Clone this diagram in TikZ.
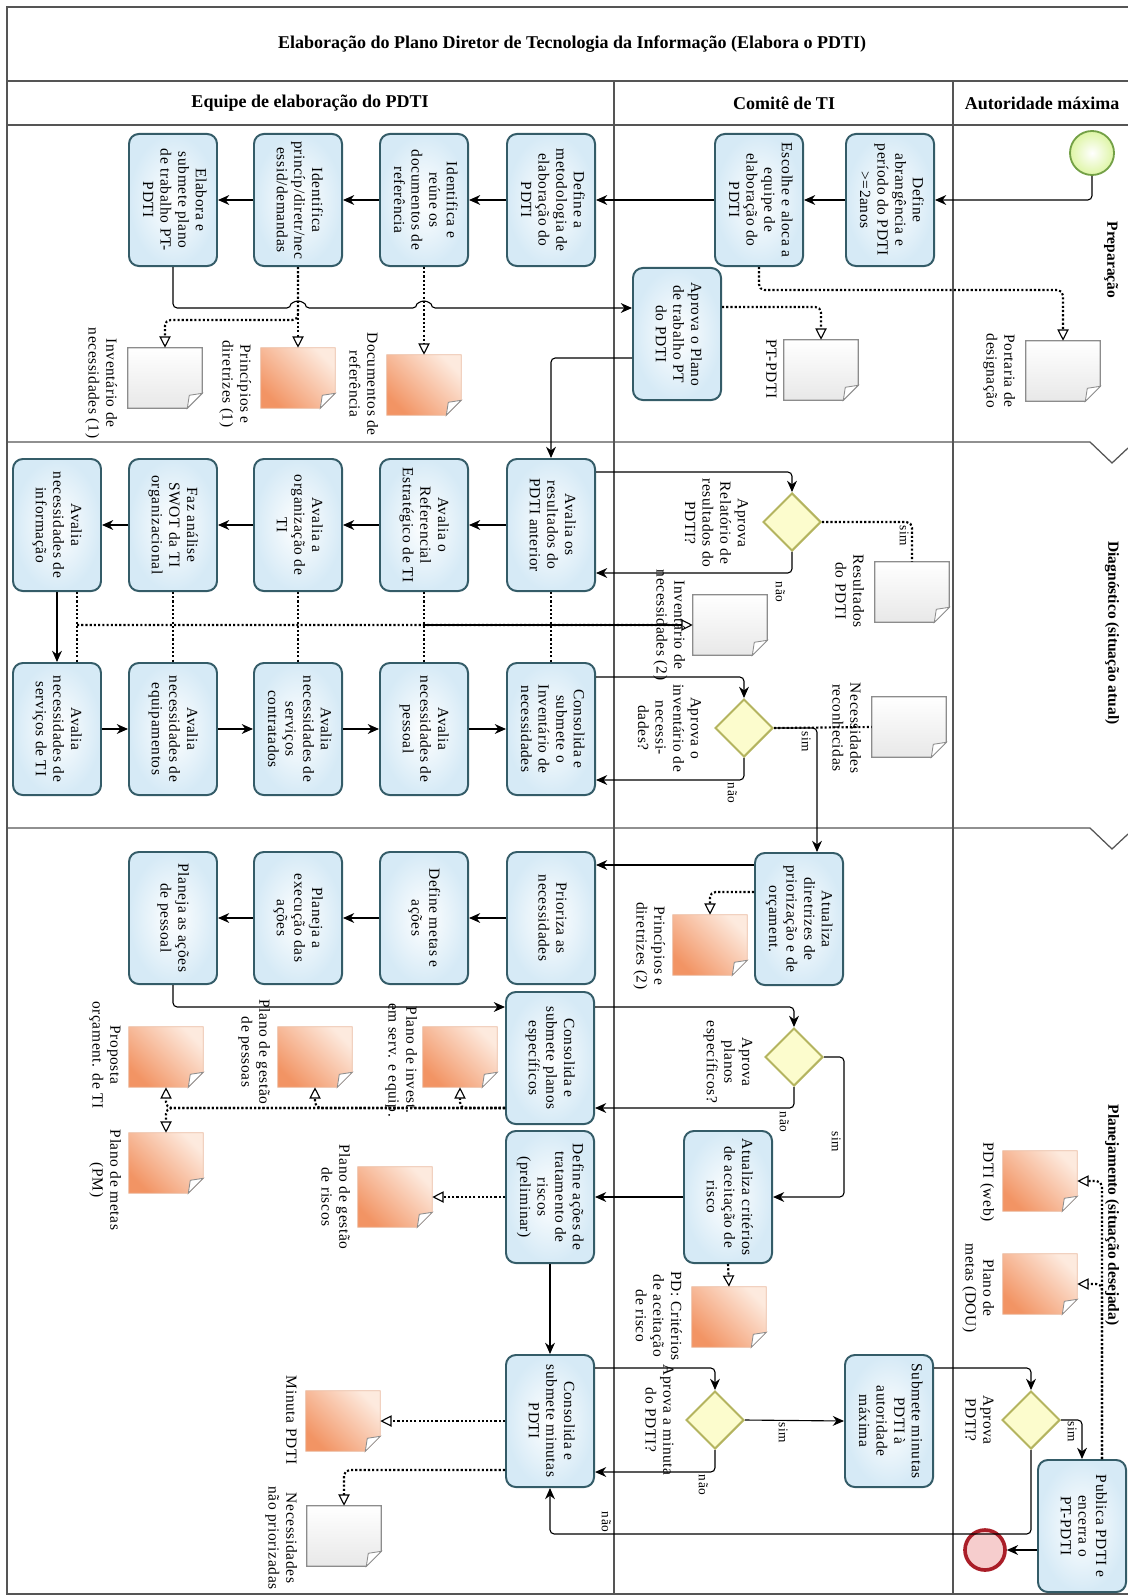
\documentclass[tikz,border=0pt]{standalone}
\usepackage{fontspec}
\setmainfont{Liberation Serif}
\newfontfamily\spacedfont[LetterSpace=4]{Liberation Serif}
\usepackage{graphicx}
\usetikzlibrary{arrows.meta, shapes.geometric}

\definecolor{taskedge}{RGB}{52,92,104}
\definecolor{taskfill}{RGB}{214,234,246}
\definecolor{gwedge}{RGB}{180,180,95}
\definecolor{gwfill}{RGB}{252,252,205}
\definecolor{docedge}{RGB}{140,140,140}
\definecolor{docgrayc}{RGB}{232,232,232}
\definecolor{docdark}{RGB}{242,148,100}
\definecolor{doclight}{RGB}{253,234,222}
\definecolor{docline}{RGB}{235,190,165}
\definecolor{laneline}{RGB}{85,85,85}
\definecolor{startedge}{RGB}{115,160,70}
\definecolor{startfill}{RGB}{222,245,165}
\definecolor{endedge}{RGB}{170,30,40}
\definecolor{endfill}{RGB}{246,205,205}

% vertical text, read from top to bottom
\newcommand\vt[1]{\rotatebox{-90}{\begin{tabular}{@{}c@{}}#1\end{tabular}}}

% data object with the folded corner
\newcommand\docnode[3]{%
	\node[doc] (#1) at (#2) {};
	\path[#3] (#1.north west) -- (#1.north east) -- ([shift={(0,-15)}]#1.south east)
		-- ([shift={(-15,0)}]#1.south east) -- (#1.south west) -- cycle;
	\path[fold] ([shift={(0,-15)}]#1.south east) -- ([shift={(-13,-13)}]#1.south east)
		-- ([shift={(-15,0)}]#1.south east) -- cycle;
}

\begin{document}
\begin{tikzpicture}[x=0.025cm, y=-0.025cm,
	lane/.style={draw=laneline, line width=0.9pt},
	task/.style={draw=taskedge, line width=1.4pt, rounded corners=7pt, inner color=white, outer color=taskfill, minimum width=2.2cm, minimum height=3.3cm, inner sep=0pt, font=\spacedfont\fontsize{11}{12.5}\selectfont},
	gw/.style={diamond, aspect=1, draw=gwedge, line width=1.4pt, fill=gwfill, minimum size=1.45cm, inner sep=0pt},
	startev/.style={circle, draw=startedge, line width=1.3pt, inner color=white, outer color=startfill, minimum size=1.1cm},
	endev/.style={circle, draw=endedge, line width=2.6pt, fill=endfill, minimum size=1.0cm},
	doc/.style={minimum width=1.85cm, minimum height=1.5cm, inner sep=0pt},
	docgray/.style={top color=white, bottom color=docgrayc, draw=docedge, line width=0.8pt},
	docorange/.style={bottom color=docdark, top color=doclight, shading angle=-45, draw=docline, line width=0.6pt},
	fold/.style={draw=docedge, fill=white, line width=0.6pt},
	lbl/.style={inner sep=0pt, font=\spacedfont\fontsize{11}{12.5}\selectfont},
	yn/.style={inner sep=0pt, font=\spacedfont\fontsize{9.5}{11}\selectfont},
	head/.style={font=\bfseries\fontsize{12.8}{15}\selectfont},
	phase/.style={font=\bfseries\fontsize{11}{13}\selectfont},
	flow/.style={draw=black, line width=0.8pt, rounded corners=3pt, -{Stealth[length=8pt, width=7pt]}},
	assoc/.style={line width=1.5pt, dash pattern=on 1.5pt off 1.5pt, rounded corners=4pt, -{Triangle[open, length=8pt, width=8pt, line width=0.8pt]}},
	link/.style={line width=1.5pt, dash pattern=on 1.5pt off 1.5pt, rounded corners=4pt}
]
	\useasboundingbox (0,0) rectangle (1128,1596);

	% pool, lanes and phases
	\draw[lane] (1128,7) -- (7,7) -- (7,1594) -- (1128,1594);
	\draw[lane] (7,81) -- (1128,81);
	\draw[lane] (7,125) -- (1128,125);
	\draw[lane] (614,81) -- (614,1594);
	\draw[lane] (953,81) -- (953,1594);
	\draw[lane] (7,442) -- (1090,442) -- (1112,463) -- (1128,448);
	\draw[lane] (7,828) -- (1090,828) -- (1112,849) -- (1128,834);

	\node[head] (title) at (572,44) {Elaboração do Plano Diretor de Tecnologia da Informação (Elabora o PDTI)};
	\node[head] (equipe) at (310,103) {Equipe de elaboração do PDTI};
	\node[head] (comite) at (784,103) {Comitê de TI};
	\node[head] (autoridade) at (1042,103) {Autoridade máxima};

	\node[phase] (preparacao) at (1111,260) {\vt{Preparação}};
	\node[phase] (diagnostico) at (1112,633) {\vt{Diagnóstico (situação atual)}};
	\node[phase] (planejamento) at (1112,1215) {\vt{Planejamento (situação desejada)}};

	% preparacao
	\node[startev] (start) at (1092,153) {};
	\node[task] (abrang) at (890,200) {\vt{Define\\abrangência e\\período do PDTI\\>=2anos}};
	\node[task] (escolhe) at (759,200) {\vt{Escolhe e aloca a\\equipe de\\elaboração do\\PDTI}};
	\node[task] (metodo) at (551,200) {\vt{Define a\\metodologia de\\elaboração do\\PDTI}};
	\node[task] (identdoc) at (424,200) {\vt{Identifica e\\reúne os\\documentos de\\referência}};
	\node[task] (identprinc) at (298,200) {\vt{Identifica\\princíp/diretr/nec\\essid/demandas}};
	\node[task] (elabora) at (173,200) {\vt{Elabora e\\submete plano\\de trabalho PT-\\PDTI}};
	\node[task] (aprovapt) at (677,334) {\vt{Aprova o Plano\\de trabalho PT\\do PDTI}};

	\docnode{invent1}{165,378}{docgray}
	\docnode{princ1}{298,378}{docorange}
	\docnode{docref}{424,385}{docorange}
	\docnode{ptpdti}{821,370}{docgray}
	\docnode{portaria}{1063,371}{docgray}
	\node[lbl] (invent1l) at (101,383) {\vt{Inventário de\\necessidades (1)}};
	\node[lbl] (princ1l) at (235,384) {\vt{Princípios e\\diretrizes (1)}};
	\node[lbl] (docrefl) at (362,384) {\vt{Documentos de\\referência}};
	\node[lbl] (ptpdtil) at (770,369) {\vt{PT-PDTI}};
	\node[lbl] (portarial) at (999,371) {\vt{Portaria de\\designação}};

	% diagnostico
	\node[task] (result) at (551,525) {\vt{Avalia os\\resultados do\\PDTI anterior}};
	\node[task] (refest) at (424,525) {\vt{Avalia o\\Referencial\\Estratégico de TI}};
	\node[task] (orgti) at (298,525) {\vt{Avalia a\\organização de\\TI}};
	\node[task] (swot) at (173,525) {\vt{Faz análise\\SWOT da TI\\organizacional}};
	\node[task] (info) at (57,525) {\vt{Avalia\\necessidades de\\informação}};
	\node[task] (servti) at (57,729) {\vt{Avalia\\necessidades de\\serviços de TI}};
	\node[task] (equip) at (173,729) {\vt{Avalia\\necessidades de\\equipamentos}};
	\node[task] (contrat) at (298,729) {\vt{Avalia\\necessidades de\\serviços\\contratados}};
	\node[task] (pessoal) at (424,729) {\vt{Avalia\\necessidades de\\pessoal}};
	\node[task] (consinv) at (551,729) {\vt{Consolida e\\submete o\\Inventário de\\necessidades}};

	\node[gw] (gw1) at (792,522) {};
	\node[gw] (gw2) at (744,728) {};
	\node[lbl] (gw1l) at (715,523) {\vt{Aprova\\Relatório de\\resultados do\\PDTI?}};
	\node[lbl] (gw2l) at (668,728) {\vt{Aprova o\\inventário de\\necessi-\\dades?}};

	\docnode{respdti}{912,592}{docgray}
	\docnode{invent2}{730,625}{docgray}
	\docnode{necrec}{909,727}{docgray}
	\node[lbl] (respdtil) at (848,591) {\vt{Resultados\\do PDTI}};
	\node[lbl] (invent2l) at (669,625) {\vt{Inventário de\\necessidades (2)}};
	\node[lbl] (necrecl) at (845,728) {\vt{Necessidades\\reconhecidas}};

	% planejamento
	\node[task] (atudir) at (799,919) {\vt{Atualiza\\diretrizes de\\priorização e de\\orçament.}};
	\node[task] (prioriza) at (551,918) {\vt{Prioriza as\\necessidades}};
	\node[task] (metas) at (424,918) {\vt{Define metas e\\ações}};
	\node[task] (planexec) at (298,918) {\vt{Planeja a\\execução das\\ações}};
	\node[task] (planpes) at (173,918) {\vt{Planeja as ações\\de pessoal}};
	\node[task] (consplan) at (550,1058) {\vt{Consolida e\\submete planos\\específicos}};
	\node[task] (atucrit) at (728,1197) {\vt{Atualiza critérios\\de aceitação de\\risco}};
	\node[task] (defrisco) at (550,1197) {\vt{Define ações de\\tratamento de\\riscos\\(preliminar)}};
	\node[task] (consmin) at (550,1421) {\vt{Consolida e\\submete minutas\\PDTI}};
	\node[task] (submete) at (889,1421) {\vt{Submete minutas\\PDTI à\\autoridade\\máxima}};
	\node[task] (publica) at (1082,1526) {\vt{Publica PDTI e\\encerra o\\PT-PDTI}};
	\node[endev] (endev) at (985,1550) {};

	\node[gw] (gw3) at (794,1057) {};
	\node[gw] (gw4) at (715,1420) {};
	\node[gw] (gw5) at (1031,1420) {};
	\node[lbl] (gw3l) at (728,1062) {\vt{Aprova\\planos\\específicos?}};
	\node[lbl] (gw4l) at (658,1420) {\vt{Aprova a minuta\\do PDTI?}};
	\node[lbl] (gw5l) at (978,1420) {\vt{Aprova\\PDTI?}};

	\docnode{princ2}{710,945}{docorange}
	\docnode{planinv}{460,1057}{docorange}
	\docnode{plangp}{315,1057}{docorange}
	\docnode{propost}{166,1057}{docorange}
	\docnode{planpm}{166,1163}{docorange}
	\docnode{plangr}{395,1197}{docorange}
	\docnode{pdcrit}{729,1317}{docorange}
	\docnode{minuta}{343,1421}{docorange}
	\docnode{necnp}{344,1536}{docgray}
	\docnode{pdtiweb}{1040,1181}{docorange}
	\docnode{metasdou}{1040,1284}{docorange}
	\node[lbl] (princ2l) at (649,946) {\vt{Princípios e\\diretrizes (2)}};
	\node[lbl] (planinvl) at (401,1060) {\vt{Plano de invest.\\em serv. e equip.}};
	\node[lbl] (plangpl) at (254,1052) {\vt{Plano de gestão\\de pessoas}};
	\node[lbl] (propostl) at (105,1055) {\vt{Proposta\\orçament. de TI}};
	\node[lbl] (planpml) at (105,1180) {\vt{Plano de metas\\(PM)}};
	\node[lbl] (plangrl) at (334,1197) {\vt{Plano de gestão\\de riscos}};
	\node[lbl] (pdcritl) at (657,1316) {\vt{PD: Critérios\\de aceitação\\de risco}};
	\node[lbl] (minutal) at (290,1420) {\vt{Minuta PDTI}};
	\node[lbl] (necnpl) at (281,1538) {\vt{Necessidades\\não priorizadas}};
	\node[lbl] (pdtiwebl) at (987,1182) {\vt{PDTI (web)}};
	\node[lbl] (metasdoul) at (978,1288) {\vt{Plano de\\metas (DOU)}};

	% sequence flows
	\draw[flow] (start.south) |- (abrang.east);
	\draw[flow] (abrang.west) -- (escolhe.east);
	\draw[flow] (escolhe.west) -- (metodo.east);
	\draw[flow] (metodo.west) -- (identdoc.east);
	\draw[flow] (identdoc.west) -- (identprinc.east);
	\draw[flow] (identprinc.west) -- (elabora.east);
	\draw[flow] (elabora.south) |- (291,308) arc[start angle=180, end angle=360, radius=7]
		-- (417,308) arc[start angle=180, end angle=360, radius=7] -- ([shift={(0,-26)}]aprovapt.west);
	\draw[flow] ([shift={(0,24)}]aprovapt.west) -| (result.north);

	\draw[flow] (result.west) -- (refest.east);
	\draw[flow] (refest.west) -- (orgti.east);
	\draw[flow] (orgti.west) -- (swot.east);
	\draw[flow] (swot.west) -- (info.east);
	\draw[flow] (info.south) -- (servti.north);
	\draw[flow] (servti.east) -- (equip.west);
	\draw[flow] (equip.east) -- (contrat.west);
	\draw[flow] (contrat.east) -- (pessoal.west);
	\draw[flow] (pessoal.east) -- (consinv.west);
	\draw[flow] ([shift={(0,-53)}]result.east) -| (gw1.north);
	\draw[flow] (gw1.south) |- ([shift={(0,48)}]result.east);
	\draw[flow] ([shift={(0,-52)}]consinv.east) -| (gw2.north);
	\draw[flow] (gw2.south) |- ([shift={(0,51)}]consinv.east);
	\draw[flow] (gw2.east) -| ([shift={(18,0)}]atudir.north);

	\draw[flow] ([shift={(0,-54)}]atudir.west) -- ([shift={(0,-53)}]prioriza.east);
	\draw[flow] (prioriza.west) -- (metas.east);
	\draw[flow] (metas.west) -- (planexec.east);
	\draw[flow] (planexec.west) -- (planpes.east);
	\draw[flow] (planpes.south) |- ([shift={(0,-51)}]consplan.west);
	\draw[flow] ([shift={(0,-51)}]consplan.east) -| (gw3.north);
	\draw[flow] (gw3.south) |- ([shift={(0,50)}]consplan.east);
	\draw[flow] (gw3.east) -- ++(20,0) |- (atucrit.east);
	\draw[flow] (atucrit.west) -- (defrisco.east);
	\draw[flow] (defrisco.south) -- (consmin.north);
	\draw[flow] ([shift={(0,-53)}]consmin.east) -| (gw4.north);
	\draw[flow] (gw4.south) |- ([shift={(0,51)}]consmin.east);
	\draw[flow] (gw4.east) -- (submete.west);
	\draw[flow] ([shift={(0,-53)}]submete.east) -| (gw5.north);
	\draw[flow] (gw5.east) -| (publica.north);
	\draw[flow] (gw5.south) -- ++(0,84) -| (consmin.south);
	\draw[flow] (publica.west |- endev.east) -- (endev.east);

	\node[yn] (nao1) at (779,592) {\vt{não}};
	\node[yn] (sim1) at (903,536) {\vt{sim}};
	\node[yn] (sim2) at (805,742) {\vt{sim}};
	\node[yn] (nao2) at (731,793) {\vt{não}};
	\node[yn] (nao3) at (783,1122) {\vt{não}};
	\node[yn] (sim3) at (835,1142) {\vt{sim}};
	\node[yn] (nao4) at (702,1485) {\vt{não}};
	\node[yn] (sim4) at (782,1433) {\vt{sim}};
	\node[yn] (sim5) at (1071,1432) {\vt{sim}};
	\node[yn] (nao5) at (605,1522) {\vt{não}};

	% associations
	\draw[assoc] (escolhe.south) -- ++(0,23) -| (portaria.north);
	\draw[assoc] ([shift={(0,-27)}]aprovapt.east) -| (ptpdti.north);
	\draw[assoc] (identdoc.south) -- (docref.north);
	\draw[assoc] (identprinc.south) -- (princ1.north);
	\draw[assoc] (identprinc.south) -- ++(0,53) -| (invent1.north);

	\draw[link] (gw1.east) -| (respdti.north);
	\draw[link] (gw2.east) -- (necrec.west);
	\draw[link] ([shift={(20,0)}]info.south) -- ([shift={(20,0)}]servti.north);
	\draw[link] (swot.south) -- (equip.north);
	\draw[link] (orgti.south) -- (contrat.north);
	\draw[link] (refest.south) -- (pessoal.north);
	\draw[link] (result.south) -- (consinv.north);
	\draw[assoc] ([shift={(20,33)}]info.south) -- (invent2.west);
	\draw[line width=1.2pt] (refest.south |- invent2.west) -- ([shift={(-11,0)}]invent2.west);

	\draw[assoc] ([shift={(0,-27)}]atudir.west) -| (princ2.north);
	\draw[assoc] ([shift={(0,50)}]consplan.west) -| (planinv.south);
	\draw[assoc] ([shift={(0,50)}]consplan.west) -| (plangp.south);
	\draw[assoc] ([shift={(0,50)}]consplan.west) -| (propost.south);
	\draw[assoc] ([shift={(0,50)}]consplan.west) -| (planpm.north);
	\draw[assoc] (defrisco.west) -- (plangr.east);
	\draw[assoc] (atucrit.south) -- (pdcrit.north);
	\draw[assoc] (consmin.west) -- (minuta.east);
	\draw[assoc] ([shift={(0,49)}]consmin.west) -| (necnp.north);
	\draw[assoc] ([shift={(20,0)}]publica.north) |- (pdtiweb.east);
	\draw[assoc] ([shift={(20,0)}]publica.north) |- (metasdou.east);

\end{tikzpicture}
\end{document}
